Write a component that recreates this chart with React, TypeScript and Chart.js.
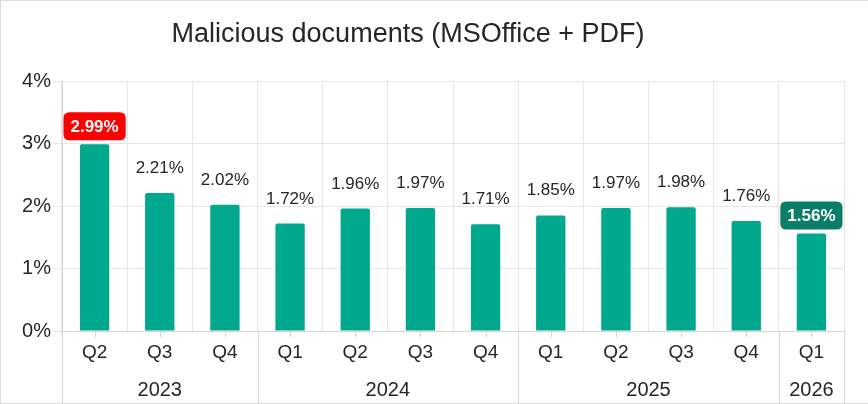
import React, { useEffect, useRef } from 'react';
import { Chart, registerables } from 'chart.js';

Chart.register(...registerables);

const TITLE = 'Malicious documents (MSOffice + PDF)';
const quarters = ['Q2', 'Q3', 'Q4', 'Q1', 'Q2', 'Q3', 'Q4', 'Q1', 'Q2', 'Q3', 'Q4', 'Q1'];
const years = ['2023', '2023', '2023', '2024', '2024', '2024', '2024', '2025', '2025', '2025', '2025', '2026'];
const values = [2.99, 2.21, 2.02, 1.72, 1.96, 1.97, 1.71, 1.85, 1.97, 1.98, 1.76, 1.56];
const yMin = 0;
const yMax = 4;
const yStep = 1;

const FONT = "'Liberation Sans', Arial, sans-serif";
const TEXT = '#262626';
const BAR = '#00a88e';
const MAX_BG = '#ff0000';
const LAST_BG = '#0a7d68';
const GRID = '#e6e6e6';
const AXIS = '#d6d6d6';

function roundRect(ctx: CanvasRenderingContext2D, x: number, y: number, w: number, h: number, r: number) {
  ctx.beginPath();
  ctx.moveTo(x + r, y);
  ctx.lineTo(x + w - r, y);
  ctx.quadraticCurveTo(x + w, y, x + w, y + r);
  ctx.lineTo(x + w, y + h - r);
  ctx.quadraticCurveTo(x + w, y + h, x + w - r, y + h);
  ctx.lineTo(x + r, y + h);
  ctx.quadraticCurveTo(x, y + h, x, y + h - r);
  ctx.lineTo(x, y + r);
  ctx.quadraticCurveTo(x, y, x + r, y);
  ctx.closePath();
}

const overlay = {
  id: 'overlay',
  afterDatasetsDraw(chart: any) {
    const ctx: CanvasRenderingContext2D = chart.ctx;
    const xs = chart.scales.x;
    const area = chart.chartArea;
    const meta = chart.getDatasetMeta(0);
    const H = chart.height;
    ctx.save();
    // title
    ctx.fillStyle = TEXT;
    ctx.font = `27px ${FONT}`;
    ctx.textAlign = 'center';
    ctx.textBaseline = 'middle';
    ctx.fillText(TITLE, area.left + (area.right - area.left) / 2 - 45, 34);

    ctx.lineWidth = 1;
    ctx.strokeStyle = AXIS;
    // center tick marks
    values.forEach((_, i) => {
      const px = Math.round(xs.getPixelForValue(i)) + 0.5;
      ctx.beginPath();
      ctx.moveTo(px, area.bottom);
      ctx.lineTo(px, area.bottom + 6);
      ctx.stroke();
    });
    // year groups
    const groups: { label: string; start: number; end: number }[] = [];
    years.forEach((y, i) => {
      const g = groups[groups.length - 1];
      if (!g || g.label !== y) groups.push({ label: y, start: i, end: i });
      else g.end = i;
    });
    const half = (xs.getPixelForValue(1) - xs.getPixelForValue(0)) / 2;
    ctx.fillStyle = TEXT;
    ctx.font = `20px ${FONT}`;
    ctx.textAlign = 'center';
    ctx.textBaseline = 'middle';
    groups.forEach((g) => {
      const l = xs.getPixelForValue(g.start) - half;
      const r = xs.getPixelForValue(g.end) + half;
      [l, r].forEach((px) => {
        const p = Math.round(px) + 0.5;
        ctx.beginPath();
        ctx.moveTo(p, area.bottom);
        ctx.lineTo(p, H);
        ctx.stroke();
      });
      ctx.fillText(g.label, (l + r) / 2, area.bottom + 59);
    });
    // value labels
    const maxIdx = values.indexOf(Math.max(...values));
    const lastIdx = values.length - 1;
    meta.data.forEach((bar: any, i: number) => {
      const txt = values[i].toFixed(2) + '%';
      const bx = bar.x;
      const top = bar.y;
      if (i === maxIdx || i === lastIdx) {
        ctx.font = `bold 17px ${FONT}`;
        const w = ctx.measureText(txt).width + 14;
        const h = 28;
        const by = top - 4 - h;
        ctx.fillStyle = i === maxIdx ? MAX_BG : LAST_BG;
        roundRect(ctx, bx - w / 2, by, w, h, 6);
        ctx.fill();
        ctx.fillStyle = '#ffffff';
        ctx.textBaseline = 'middle';
        ctx.fillText(txt, bx, by + h / 2 + 1);
      } else {
        ctx.font = `17px ${FONT}`;
        ctx.fillStyle = TEXT;
        ctx.textBaseline = 'alphabetic';
        ctx.fillText(txt, bx, top - 20);
      }
    });
    ctx.restore();
  },
};

export default function App() {
  const ref = useRef<HTMLCanvasElement | null>(null);
  useEffect(() => {
    document.body.style.margin = '0';
    if (!ref.current) return;
    const chart = new Chart(ref.current, {
      type: 'bar',
      data: {
        labels: quarters,
        datasets: [
          {
            data: values,
            backgroundColor: BAR,
            borderRadius: { topLeft: 2, topRight: 2, bottomLeft: 0, bottomRight: 0 },
            borderSkipped: 'bottom',
            categoryPercentage: 1,
            barPercentage: 0.45,
          },
        ],
      },
      options: {
        responsive: false,
        maintainAspectRatio: false,
        animation: false,
        devicePixelRatio: 1,
        layout: { padding: { left: 0, right: 24, top: 80, bottom: 0 } },
        plugins: {
          legend: { display: false },
          tooltip: { enabled: false },
          title: { display: false },
        },
        scales: {
          x: {
            offset: true,
            grid: { display: true, offset: true, color: GRID, drawTicks: false },
            border: { display: true, color: AXIS },
            ticks: { color: TEXT, font: { family: FONT, size: 19 }, padding: 10, maxRotation: 0, autoSkip: false },
            afterFit: (s: any) => {
              s.height = 72;
            },
          },
          y: {
            min: yMin,
            max: yMax,
            ticks: {
              stepSize: yStep,
              color: TEXT,
              font: { family: FONT, size: 20 },
              padding: 3,
              callback: (v: any) => `${v}%`,
            },
            grid: { color: GRID, tickLength: 8 },
            border: { display: true, color: AXIS },
            afterFit: (s: any) => {
              s.width = 61;
            },
          },
        },
      },
      plugins: [overlay],
    });
    return () => chart.destroy();
  }, []);
  return (
    <div
      style={{
        width: 868,
        height: 404,
        boxSizing: 'border-box',
        borderTop: '1px solid #dddddd',
        borderLeft: '1px solid #dddddd',
        borderBottom: '1px solid #dddddd',
        background: '#ffffff',
      }}
    >
      <canvas ref={ref} width={867} height={402} style={{ display: 'block', width: 867, height: 402 }} />
    </div>
  );
}
